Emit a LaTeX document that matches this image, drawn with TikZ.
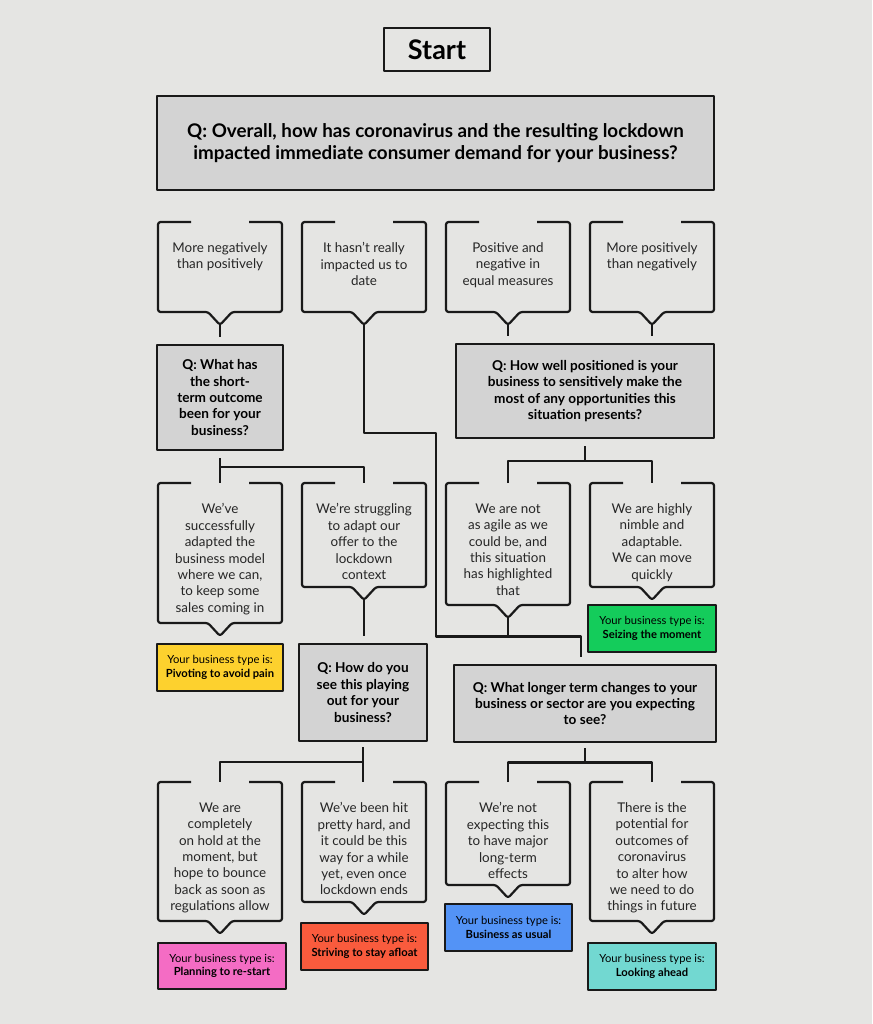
\documentclass[tikz,border=0pt]{standalone}
\usepackage{fontspec}
\setmainfont{Lato}
\usetikzlibrary{calc}

\definecolor{bg}{HTML}{E5E5E3}
\definecolor{qgray}{HTML}{D3D3D3}
\definecolor{ryellow}{HTML}{FDD12E}
\definecolor{rgreen}{HTML}{14CC5B}
\definecolor{rpink}{HTML}{F46CC4}
\definecolor{rred}{HTML}{F95B3D}
\definecolor{rblue}{HTML}{5393F6}
\definecolor{rteal}{HTML}{72D8D1}

% speech bubble: name, centre x, top y, body height, text
\newcommand\bubble[5]{%
  \coordinate (#1-top) at (#2,#3);
  \coordinate (#1-tip) at (#2,#3+#4+13);
  \draw[bub] ($(#1-top)+(-29,0)$) -- ++(-33,0) -- ++(0,#4) -- ++(50,0) -- (#1-tip)
    -- ++(12,-13) -- ++(50,0) -- ++(0,-#4) -- ++(-33,0);
  \node[bubtext] (#1) at ($(#1-top)+(0,20.5)$) {#5};}

\begin{document}
\begin{tikzpicture}[x=1pt,y=-1pt,line join=round,
  conn/.style={line width=2.2pt,black!90},
  bub/.style={line width=2.2pt,black!90,rounded corners=2.5pt},
  bubtext/.style={anchor=north,align=center,inner sep=0pt,text=black!85,
    font=\fontsize{13.4}{16.4}\selectfont},
  qbox/.style={draw=black!90,line width=2pt,fill=qgray,align=center,inner sep=0pt,
    font=\bfseries\fontsize{13.6}{16.4}\selectfont},
  rbox/.style={draw=black!90,line width=2pt,align=center,inner sep=0pt,
    font=\fontsize{11.2}{13.4}\selectfont}]
  \fill[bg] (0,0) rectangle (872,1024);

  % start and questions
  \node[draw=black!90,line width=2pt,minimum width=106pt,minimum height=43pt,inner sep=0pt,
    font=\bfseries\fontsize{27}{30}\selectfont] (start) at (437,49.5) {Start};
  \node[qbox,minimum width=557pt,minimum height=94pt,font=\bfseries\fontsize{18.8}{21.7}\selectfont]
    (q1) at (435.5,143) {Q: Overall, how has coronavirus and the resulting lockdown\\
    impacted immediate consumer demand for your business?};
  \node[qbox,minimum width=126pt,minimum height=105pt] (q2) at (220,397.5)
    {Q: What has\\the short-\\term outcome\\been for your\\business?};
  \node[qbox,minimum width=258pt,minimum height=94pt] (q3) at (585,391)
    {Q: How well positioned is your\\business to sensitively make the\\most of any opportunities this\\situation presents?};
  \node[qbox,minimum width=128pt,minimum height=97pt] (q5) at (363,692.5)
    {Q: How do you\\see this playing\\out for your\\business?};
  \node[qbox,minimum width=262pt,minimum height=77pt] (q4) at (585,703.5)
    {Q: What longer term changes to your\\business or sector are you expecting\\to see?};

  % answers
  \bubble{b11}{220}{222}{90}{More negatively\\than positively}
  \bubble{b12}{364}{222}{90}{It hasn’t really\\impacted us to\\date}
  \bubble{b13}{508}{222}{90}{Positive and\\negative in\\equal measures}
  \bubble{b14}{652}{222}{90}{More positively\\than negatively}
  \bubble{b21}{220}{483}{140}{We’ve\\successfully\\adapted the\\business model\\where we can,\\to keep some\\sales coming in}
  \bubble{b22}{364}{483}{104}{We’re struggling\\to adapt our\\offer to the\\lockdown\\context}
  \bubble{b23}{508}{483}{122}{We are not\\as agile as we\\could be, and\\this situation\\has highlighted\\that}
  \bubble{b24}{652}{483}{104}{We are highly\\nimble and\\adaptable.\\We can move\\quickly}
  \bubble{b31}{220}{782}{139}{We are\\completely\\on hold at the\\moment, but\\hope to bounce\\back as soon as\\regulations allow}
  \bubble{b32}{364}{782}{120}{We’ve been hit\\pretty hard, and\\it could be this\\way for a while\\yet, even once\\lockdown ends}
  \bubble{b33}{508}{782}{103}{We’re not\\expecting this\\to have major\\long-term\\effects}
  \bubble{b34}{652}{782}{139}{There is the\\potential for\\outcomes of\\coronavirus\\to alter how\\we need to do\\things in future}

  % business types
  \node[rbox,fill=ryellow,minimum width=126pt,minimum height=47pt] (r1) at (220,667.5)
    {Your business type is:\\\textbf{Pivoting to avoid pain}};
  \node[rbox,fill=rgreen,minimum width=128pt,minimum height=47pt] (r2) at (652,628.5)
    {Your business type is:\\\textbf{Seizing the moment}};
  \node[rbox,fill=rpink,minimum width=128pt,minimum height=46pt] (r3) at (222,966)
    {Your business type is:\\\textbf{Planning to re-start}};
  \node[rbox,fill=rred,minimum width=127pt,minimum height=47pt] (r4) at (364.5,946.5)
    {Your business type is:\\\textbf{Striving to stay afloat}};
  \node[rbox,fill=rblue,minimum width=127pt,minimum height=47pt] (r5) at (508.5,927.5)
    {Your business type is:\\\textbf{Business as usual}};
  \node[rbox,fill=rteal,minimum width=128pt,minimum height=47pt] (r6) at (652,966.5)
    {Your business type is:\\\textbf{Looking ahead}};

  % connectors
  \draw[conn,shorten >=7pt] (b11-tip) -- (q2.north);
  \draw[conn,shorten >=7pt] (b13-tip) -- (b13-tip |- q3.north);
  \draw[conn,shorten >=7pt] (b14-tip) -- (b14-tip |- q3.north);
  \coordinate (elbow) at (436,433);
  \coordinate (j4) at ($(b23-tip)!.4!(b23-tip |- q4.north)$);
  \draw[conn,shorten >=7pt] (b12-tip) |- (elbow) |- (j4) -| ([xshift=-4pt]q4.north);
  \draw[conn] (b23-tip) -- (j4);
  \draw[conn,shorten >=7pt] (b22-tip) -- (b22-tip |- q5.north);

  \draw[conn,shorten <=7pt] (q2.south) -- (b21-top);
  \draw[conn] ($(q2.south)!.5!(b21-top)$) -| (b22-top);
  \coordinate (j3) at ($(q3.south)!.5!(q3.south |- b23-top)$);
  \draw[conn,shorten <=7pt] (q3.south) -- (j3);
  \draw[conn] (b23-top) |- (j3) -| (b24-top);
  \draw[conn,shorten <=5pt] (q5.south) -- (q5.south |- b32-top);
  \draw[conn] ($(q5.south)!.5!(q5.south |- b32-top)$) -| (b31-top);
  \coordinate (j5) at ($(q4.south)!.5!(q4.south |- b33-top)$);
  \draw[conn,shorten <=5pt] (q4.south) -- (j5);
  \draw[conn] (b33-top) |- (j5) -| (b34-top);
\end{tikzpicture}
\end{document}
